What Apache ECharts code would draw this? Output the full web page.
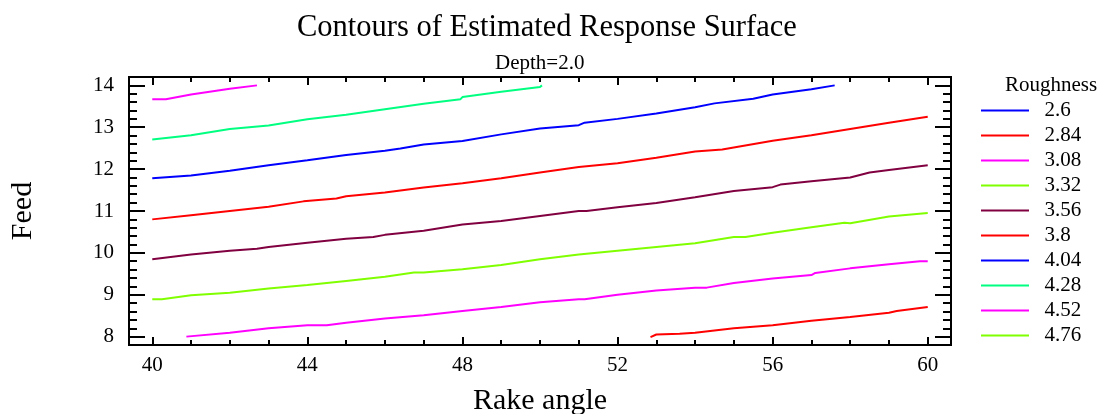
<!DOCTYPE html>
<html>
<head>
<meta charset="utf-8">
<script src="https://cdn.jsdelivr.net/npm/echarts@6/dist/echarts.min.js"></script>
<style>
  html, body { margin: 0; padding: 0; background: #fff; }
  #chart { width: 1104px; height: 414px; }
</style>
</head>
<body>
<div id="chart"></div>
<script>
// Contour levels of Roughness and their line colours
const levels = ['2.6', '2.84', '3.08', '3.32', '3.56', '3.8', '4.04', '4.28', '4.52', '4.76'];
const levelColors = ['#0000FF', '#FF0000', '#FF00FF', '#80FF00', '#800040',
                     '#FF0000', '#0000FF', '#00FF80', '#FF00FF', '#80FF00'];

// Contour paths as [Rake angle, Feed] pairs (Depth = 2.0)
const level260 = [];
const level284 = [[52.85, 7.99], [53.0, 8.05], [53.6, 8.07], [54, 8.09], [55, 8.2], [56, 8.27],
                  [57, 8.38], [58, 8.47], [59, 8.57], [59.2, 8.61], [60, 8.71]];
const level308 = [[40.88, 8.0], [42, 8.09], [43, 8.2], [44, 8.27], [44.5, 8.27], [45, 8.33],
                  [46, 8.43], [47, 8.51], [48, 8.61], [49, 8.71], [50, 8.82], [51, 8.89],
                  [51.15, 8.89], [52, 9.0], [53, 9.1], [54, 9.17], [54.3, 9.17], [55, 9.28],
                  [56, 9.39], [57, 9.47], [57.1, 9.52], [58, 9.63], [59, 9.73], [59.8, 9.8], [60, 9.8]];
const level332 = [[40, 8.89], [40.25, 8.89], [41, 8.99], [42, 9.05], [43, 9.15], [44, 9.23],
                  [45, 9.33], [46, 9.43], [46.75, 9.53], [47, 9.53], [48, 9.61], [49, 9.71],
                  [50, 9.85], [51, 9.96], [52, 10.05], [53, 10.14], [54, 10.23], [55, 10.38],
                  [55.3, 10.38], [56, 10.48], [57, 10.61], [57.85, 10.72], [58, 10.71],
                  [59, 10.87], [60, 10.95]];
const level356 = [[40, 9.85], [41, 9.96], [42, 10.05], [42.7, 10.1], [43, 10.14], [44, 10.24],
                  [45, 10.34], [45.7, 10.38], [46, 10.43], [47, 10.53], [48, 10.68], [49, 10.76],
                  [50, 10.88], [51, 11.0], [51.2, 11.0], [52, 11.09], [53, 11.19], [54, 11.33],
                  [55, 11.48], [56, 11.57], [56.2, 11.63], [57, 11.71], [58, 11.8], [58.5, 11.92],
                  [59, 11.98], [60, 12.09]];
const level380 = [[40, 10.8], [41, 10.9], [42, 11.0], [43, 11.1], [43.9, 11.23], [44.75, 11.3],
                  [45, 11.35], [46, 11.44], [47, 11.56], [48, 11.66], [49, 11.78], [50, 11.92],
                  [51, 12.05], [52, 12.14], [53, 12.27], [54, 12.42], [54.7, 12.47], [56, 12.68],
                  [57, 12.81], [58, 12.96], [59, 13.11], [60, 13.25]];
const level404 = [[40, 11.78], [41, 11.85], [42, 11.96], [43, 12.09], [44, 12.21], [45, 12.34],
                  [46, 12.44], [46.4, 12.49], [47, 12.59], [48, 12.67], [49, 12.83], [50, 12.97],
                  [51, 13.05], [51.15, 13.11], [52, 13.2], [53, 13.33], [54, 13.48], [54.5, 13.57],
                  [55.5, 13.68], [56, 13.78], [57, 13.91], [57.6, 14.0]];
const level428 = [[40, 12.71], [41, 12.81], [42, 12.96], [43, 13.04], [44, 13.19], [45, 13.3],
                  [46, 13.43], [47, 13.56], [47.95, 13.67], [48, 13.72], [49, 13.85], [50, 13.96],
                  [50.05, 14.0]];
const level452 = [[40, 13.67], [40.35, 13.67], [41, 13.78], [42, 13.92], [42.7, 14.0]];
const level476 = [];

const contourData = [level260, level284, level308, level332, level356,
                     level380, level404, level428, level452, level476];

// Axis ranges and tick values
const xRange = [39.4, 60.6];
const yRange = [7.8, 14.2];
const xMajorTicks = [40, 44, 48, 52, 56, 60];
const xMinorTicks = [41, 42, 43, 45, 46, 47, 49, 50, 51, 53, 54, 55, 57, 58, 59];
const yMajorTicks = [8, 9, 10, 11, 12, 13, 14];
const yMinorTicks = [8.2, 8.4, 8.6, 8.8, 9.2, 9.4, 9.6, 9.8, 10.2, 10.4, 10.6, 10.8,
                     11.2, 11.4, 11.6, 11.8, 12.2, 12.4, 12.6, 12.8, 13.2, 13.4, 13.6, 13.8];

const FONT = '"Liberation Serif", "Times New Roman", serif';
const axisLineStyle = { show: true, lineStyle: { color: '#000', width: 2 } };

function frameAxis(position, range, ticks, tickLen, withLabels) {
  return {
    type: 'value',
    position: position,
    min: range[0],
    max: range[1],
    axisLine: axisLineStyle,
    axisTick: { show: true, inside: true, length: tickLen, customValues: ticks,
                lineStyle: { color: '#000', width: 2 } },
    axisLabel: withLabels
      ? { show: true, customValues: ticks, color: '#000', fontSize: 21, fontFamily: FONT }
      : { show: false },
    splitLine: { show: false },
    silent: true
  };
}

const xBottom = frameAxis('bottom', xRange, xMajorTicks, 8, true);
xBottom.axisLabel.margin = 10;
xBottom.name = 'Rake angle';
xBottom.nameLocation = 'middle';
xBottom.nameGap = 41;
xBottom.nameTextStyle = { color: '#000', fontSize: 30, fontFamily: FONT };

const yLeft = frameAxis('left', yRange, yMajorTicks, 16, true);
yLeft.axisLabel.margin = 15;
yLeft.name = 'Feed';
yLeft.nameLocation = 'middle';
yLeft.nameGap = 91;
yLeft.nameTextStyle = { color: '#000', fontSize: 30, fontFamily: FONT };

const option = {
  animation: false,
  backgroundColor: '#fff',
  title: [
    { text: 'Contours of Estimated Response Surface', left: 297, top: 12, padding: 0,
      textStyle: { color: '#000', fontSize: 30.5, fontWeight: 'normal', fontFamily: FONT } },
    { text: 'Depth=2.0', left: 495, top: 53, padding: 0,
      textStyle: { color: '#000', fontSize: 21, fontWeight: 'normal', fontFamily: FONT } },
    { text: 'Roughness', left: 1005, top: 75, padding: 0,
      textStyle: { color: '#000', fontSize: 21, fontWeight: 'normal', fontFamily: FONT } }
  ],
  grid: { left: 129, right: 153, top: 77, bottom: 69, containLabel: false, outerBoundsMode: 'none' },
  xAxis: [
    xBottom,
    frameAxis('bottom', xRange, xMinorTicks, 5, false),
    frameAxis('top', xRange, xMajorTicks, 8, false),
    frameAxis('top', xRange, xMinorTicks, 5, false)
  ],
  yAxis: [
    yLeft,
    frameAxis('left', yRange, yMinorTicks, 8, false),
    frameAxis('right', yRange, yMajorTicks, 16, false),
    frameAxis('right', yRange, yMinorTicks, 8, false)
  ],
  legend: {
    orient: 'vertical', left: 981, top: 100, padding: 0, itemGap: 4,
    itemWidth: 48, itemHeight: 2, icon: 'rect', selectedMode: false,
    textStyle: { color: '#000', fontSize: 21, lineHeight: 21, fontFamily: FONT },
    formatter: name => '  ' + name,
    data: levels
  },
  series: levels.map((lvl, i) => ({
    name: lvl,
    type: 'line',
    xAxisIndex: 0,
    yAxisIndex: 0,
    data: contourData[i],
    showSymbol: false,
    symbol: 'none',
    color: levelColors[i],
    lineStyle: { color: levelColors[i], width: 2 },
    clip: true
  }))
};

const chart = echarts.init(document.getElementById('chart'), null, { renderer: 'canvas' });
chart.setOption(option);
</script>
</body>
</html>
